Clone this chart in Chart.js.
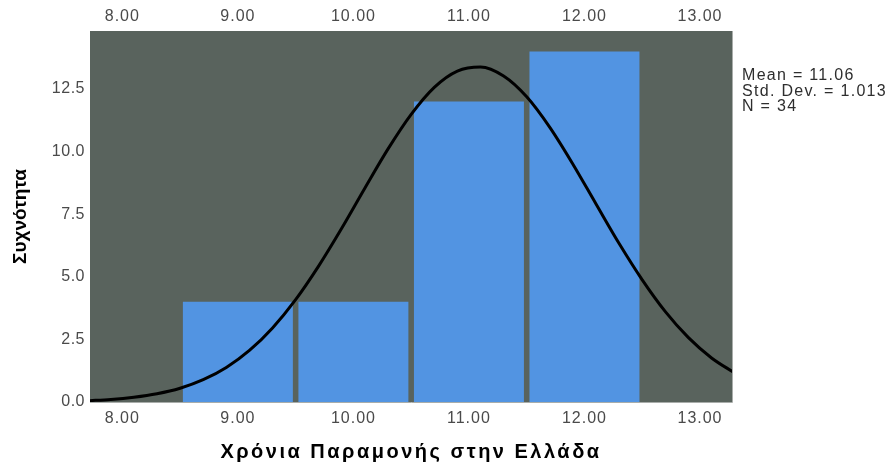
<!DOCTYPE html>
<html>
<head>
<meta charset="utf-8">
<script src="https://cdn.jsdelivr.net/npm/chart.js@4/dist/chart.umd.min.js"></script>
<style>
  html, body { margin: 0; padding: 0; background: #ffffff; }
  #wrap { width: 892px; height: 468px; }
</style>
</head>
<body>
<div id="wrap"><canvas id="c" width="892" height="468"></canvas></div>
<script>
// Histogram bins (centre of each one-year bin) and their counts
const binCenters = [9, 10, 11, 12];
const frequencies = [4, 4, 12, 14];

// Fitted normal curve, sampled along the x range
const curveX = [7.7, 7.9, 8.1, 8.3, 8.5, 8.7, 8.9, 9.1, 9.3, 9.5, 9.7, 9.9,
                10.1, 10.3, 10.5, 10.7, 10.9, 11.1, 11.3, 11.5, 11.7, 11.9,
                12.1, 12.3, 12.5, 12.7, 12.9, 13.1, 13.3];
const curveY = [0.05, 0.10, 0.19, 0.33, 0.55, 0.89, 1.38, 2.06, 2.96, 4.09, 5.44, 6.95,
                8.55, 10.11, 11.49, 12.57, 13.22, 13.38, 13.02, 12.19, 10.97, 9.50,
                7.91, 6.33, 4.88, 3.61, 2.57, 1.76, 1.16];

// Axis ticks
const xTicks = [8, 9, 10, 11, 12, 13];
const yTicks = [0, 2.5, 5, 7.5, 10, 12.5];

// Texts
const statsLines = ['Mean = 11.06', 'Std. Dev. = 1.013', 'N = 34'];
const xTitle = 'Χρόνια Παραμονής στην Ελλάδα';
const yTitle = 'Συχνότητα';

const X_MIN = 7.72, X_MAX = 13.277;
const Y_MIN = 0, Y_MAX = 14.82;

const FONT = '"Liberation Sans", Arial, sans-serif';
const TICK_COLOR = '#4a4a4a';
const PLOT_BG = '#59635d';
const BAR_COLOR = '#5294e2';

// Extra tracking for scale texts, per scale id
const SPACING = {
  x:  { labels: 1.0, title: 2.5 },
  x2: { labels: 1.0, title: 0 },
  y:  { labels: 0.5, title: 0 }
};

const letterSpacingPlugin = {
  id: 'letterSpacing',
  beforeDraw(chart) {
    for (const s of Object.values(chart.scales)) {
      if (s.$spaced) continue;
      s.$spaced = true;
      const cfg = SPACING[s.id] || { labels: 0, title: 0 };
      const wrap = (name, ls) => {
        const orig = s[name];
        s[name] = function (...args) {
          const ctx = this.ctx;
          const prev = ctx.letterSpacing;
          ctx.letterSpacing = ls + 'px';
          orig.apply(this, args);
          ctx.letterSpacing = prev;
        };
      };
      wrap('drawLabels', cfg.labels);
      wrap('drawTitle', cfg.title);
    }
  }
};

const plotFramePlugin = {
  id: 'plotFrame',
  beforeDraw(chart) {
    const { ctx, chartArea: a } = chart;
    ctx.save();
    ctx.fillStyle = PLOT_BG;
    ctx.fillRect(a.left, a.top, a.right - a.left, a.bottom - a.top);
    ctx.restore();
  },
  afterDatasetsDraw(chart) {
    const { ctx, chartArea: a } = chart;
    ctx.save();
    ctx.strokeStyle = '#a9adaa';
    ctx.lineWidth = 1;
    ctx.beginPath();
    ctx.moveTo(a.left, a.bottom + 0.5);
    ctx.lineTo(a.right + 0.5, a.bottom + 0.5);
    ctx.lineTo(a.right + 0.5, a.top);
    ctx.stroke();
    ctx.restore();
  }
};

const statsPlugin = {
  id: 'stats',
  afterDraw(chart) {
    const { ctx, chartArea: a } = chart;
    ctx.save();
    ctx.font = '16px ' + FONT;
    ctx.letterSpacing = '1.3px';
    ctx.fillStyle = '#2e2e2e';
    ctx.textAlign = 'left';
    ctx.textBaseline = 'alphabetic';
    statsLines.forEach((t, i) => ctx.fillText(t, a.right + 10, 80 + i * 15.5));
    ctx.restore();
  }
};

const tickFont = { family: FONT, size: 16 };

new Chart(document.getElementById('c'), {
  type: 'bar',
  data: {
    datasets: [
      {
        type: 'line',
        data: curveX.map((x, i) => ({ x, y: curveY[i] })),
        borderColor: '#000000',
        borderWidth: 3,
        pointRadius: 0,
        cubicInterpolationMode: 'monotone',
        fill: false,
        clip: 0,
        order: 0
      },
      {
        type: 'bar',
        data: binCenters.map((x, i) => ({ x, y: frequencies[i] })),
        backgroundColor: BAR_COLOR,
        borderWidth: 0,
        categoryPercentage: 1,
        barPercentage: 0.952,
        order: 1
      }
    ]
  },
  options: {
    responsive: false,
    animation: false,
    devicePixelRatio: 1,
    layout: { padding: { left: 0, right: 160, top: 0, bottom: 0 } },
    plugins: { legend: { display: false }, tooltip: { enabled: false } },
    scales: {
      x: {
        type: 'linear',
        position: 'bottom',
        min: X_MIN, max: X_MAX,
        offset: false,
        grid: { display: false, drawTicks: false },
        border: { display: false },
        afterBuildTicks: s => { s.ticks = xTicks.map(v => ({ value: v })); },
        afterFit: s => { s.height = 66; },
        ticks: {
          padding: 7, color: TICK_COLOR, font: tickFont,
          maxRotation: 0, autoSkip: false,
          callback: v => Number(v).toFixed(2)
        },
        title: {
          display: true, text: xTitle, color: '#000000',
          font: { family: FONT, size: 20, weight: 'bold' },
          padding: { top: 4, bottom: 4 }
        }
      },
      x2: {
        type: 'linear',
        position: 'top',
        min: X_MIN, max: X_MAX,
        offset: false,
        grid: { display: false, drawTicks: false },
        border: { display: false },
        afterBuildTicks: s => { s.ticks = xTicks.map(v => ({ value: v })); },
        afterFit: s => { s.height = 31; },
        ticks: {
          padding: 5, color: TICK_COLOR, font: tickFont,
          maxRotation: 0, autoSkip: false,
          callback: v => Number(v).toFixed(2)
        }
      },
      y: {
        type: 'linear',
        min: Y_MIN, max: Y_MAX,
        grid: { display: false, drawTicks: false },
        border: { display: false },
        afterBuildTicks: s => { s.ticks = yTicks.map(v => ({ value: v })); },
        afterFit: s => { s.width = 90; },
        ticks: {
          padding: 5, color: TICK_COLOR, font: tickFont,
          callback: v => Number(v).toFixed(1)
        },
        title: {
          display: true, text: yTitle, color: '#000000',
          font: { family: FONT, size: 19, weight: 'bold' },
          padding: { top: 9, bottom: 9 }
        }
      }
    }
  },
  plugins: [letterSpacingPlugin, plotFramePlugin, statsPlugin]
});
</script>
</body>
</html>
